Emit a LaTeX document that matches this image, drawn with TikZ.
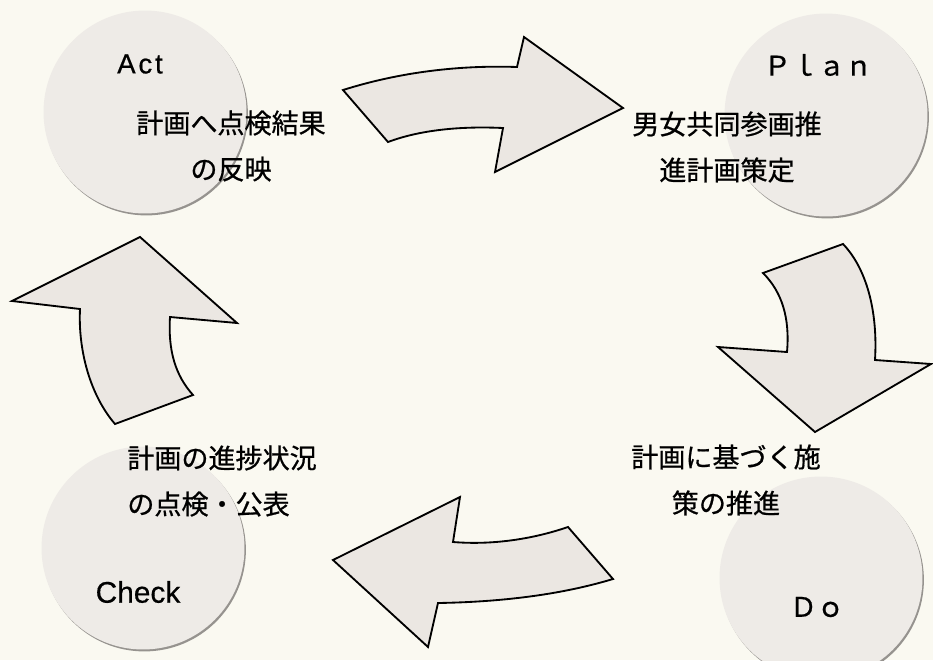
\documentclass[tikz,border=0pt]{standalone}
\usepackage{fontspec}
\usepackage{tikz}
\usetikzlibrary{shadows}
\newfontfamily\jpfont[FakeBold=0.7]{Noto Sans CJK JP}
\newfontfamily\latfont[FakeBold=0.5]{Liberation Sans}
\definecolor{paper}{RGB}{250,249,241}
\definecolor{disc}{RGB}{238,235,231}
\definecolor{blockfill}{RGB}{235,231,226}
\definecolor{rim}{RGB}{150,147,143}

\begin{document}
\begin{tikzpicture}[x=0.02cm,y=-0.02cm,
                    main node/.style={circle,fill=disc,minimum size=4.06cm,inner sep=0pt,
                      drop shadow={shadow xshift=0.8pt,shadow yshift=-1.1pt,fill=rim,opacity=1}},
                    phase node/.style={inner sep=0pt,font=\latfont\fontsize{16pt}{18pt}\selectfont},
                    wide node/.style={inner sep=0pt,font=\jpfont\fontsize{15.4pt}{18pt}\selectfont},
                    text node/.style={inner sep=0pt,align=center,font=\jpfont\fontsize{15.4pt}{26.2pt}\selectfont},
                    block arrow/.style={draw=black,fill=blockfill,line width=1.05pt,line join=miter}]

  \clip (0,0) rectangle (933,660);
  \fill[paper] (0,0) rectangle (933,660);

  % the four circles
  \node[main node] (act) at (145,112) {};
  \node[main node] (plan) at (826,115) {};
  \node[main node] (check) at (143,548) {};
  \node[main node] (do) at (821,578) {};

  % Act -> Plan
  \draw[block arrow] (343,90) .. controls (400,72) and (460,65) .. (517,67)
    -- (524,37) -- (623,108) -- (495,172) -- (503,128)
    .. controls (460,126) and (420,130) .. (388,142) -- cycle;
  % Plan -> Do
  \draw[block arrow] (763,273) -- (843,244)
    .. controls (866,268) and (878,310) .. (875,360)
    -- (931,364) -- (815,432) -- (718,347) -- (787,352)
    .. controls (790,318) and (782,292) .. (763,273) -- cycle;
  % Do -> Check
  \draw[block arrow] (333,560) -- (460,497) -- (453,542)
    .. controls (490,545) and (530,540) .. (568,527)
    -- (613,579)
    .. controls (560,595) and (500,602) .. (438,603)
    -- (428,647) -- cycle;
  % Check -> Act
  \draw[block arrow] (140,237) -- (237,323) -- (170,317)
    .. controls (168,350) and (175,375) .. (193,395)
    -- (115,424)
    .. controls (90,395) and (78,350) .. (80,309)
    -- (12,301) -- cycle;

  % names
  \node[phase node,font=\latfont\addfontfeature{LetterSpace=10}\fontsize{15.8pt}{18pt}\selectfont] (actname) at (140,64) {Act};
  \node[wide node] (planname) at (818,65) {Ｐｌａｎ};
  \node[phase node,font=\latfont\fontsize{17pt}{19pt}\selectfont] (checkname) at (138,592) {Check};
  \node[wide node] (doname) at (817,607) {Ｄｏ};

  % what each phase does
  \node[text node] (acttext) at (231,146) {計画へ点検結果\\の反映};
  \node[text node] (plantext) at (727,147) {男女共同参画推\\進計画策定};
  \node[text node,align=left,anchor=west] (checktext) at (127,481) {計画の進捗状況\\の点検・公表};
  \node[text node] (dotext) at (726,480) {計画に基づく施\\策の推進};
\end{tikzpicture}
\end{document}
